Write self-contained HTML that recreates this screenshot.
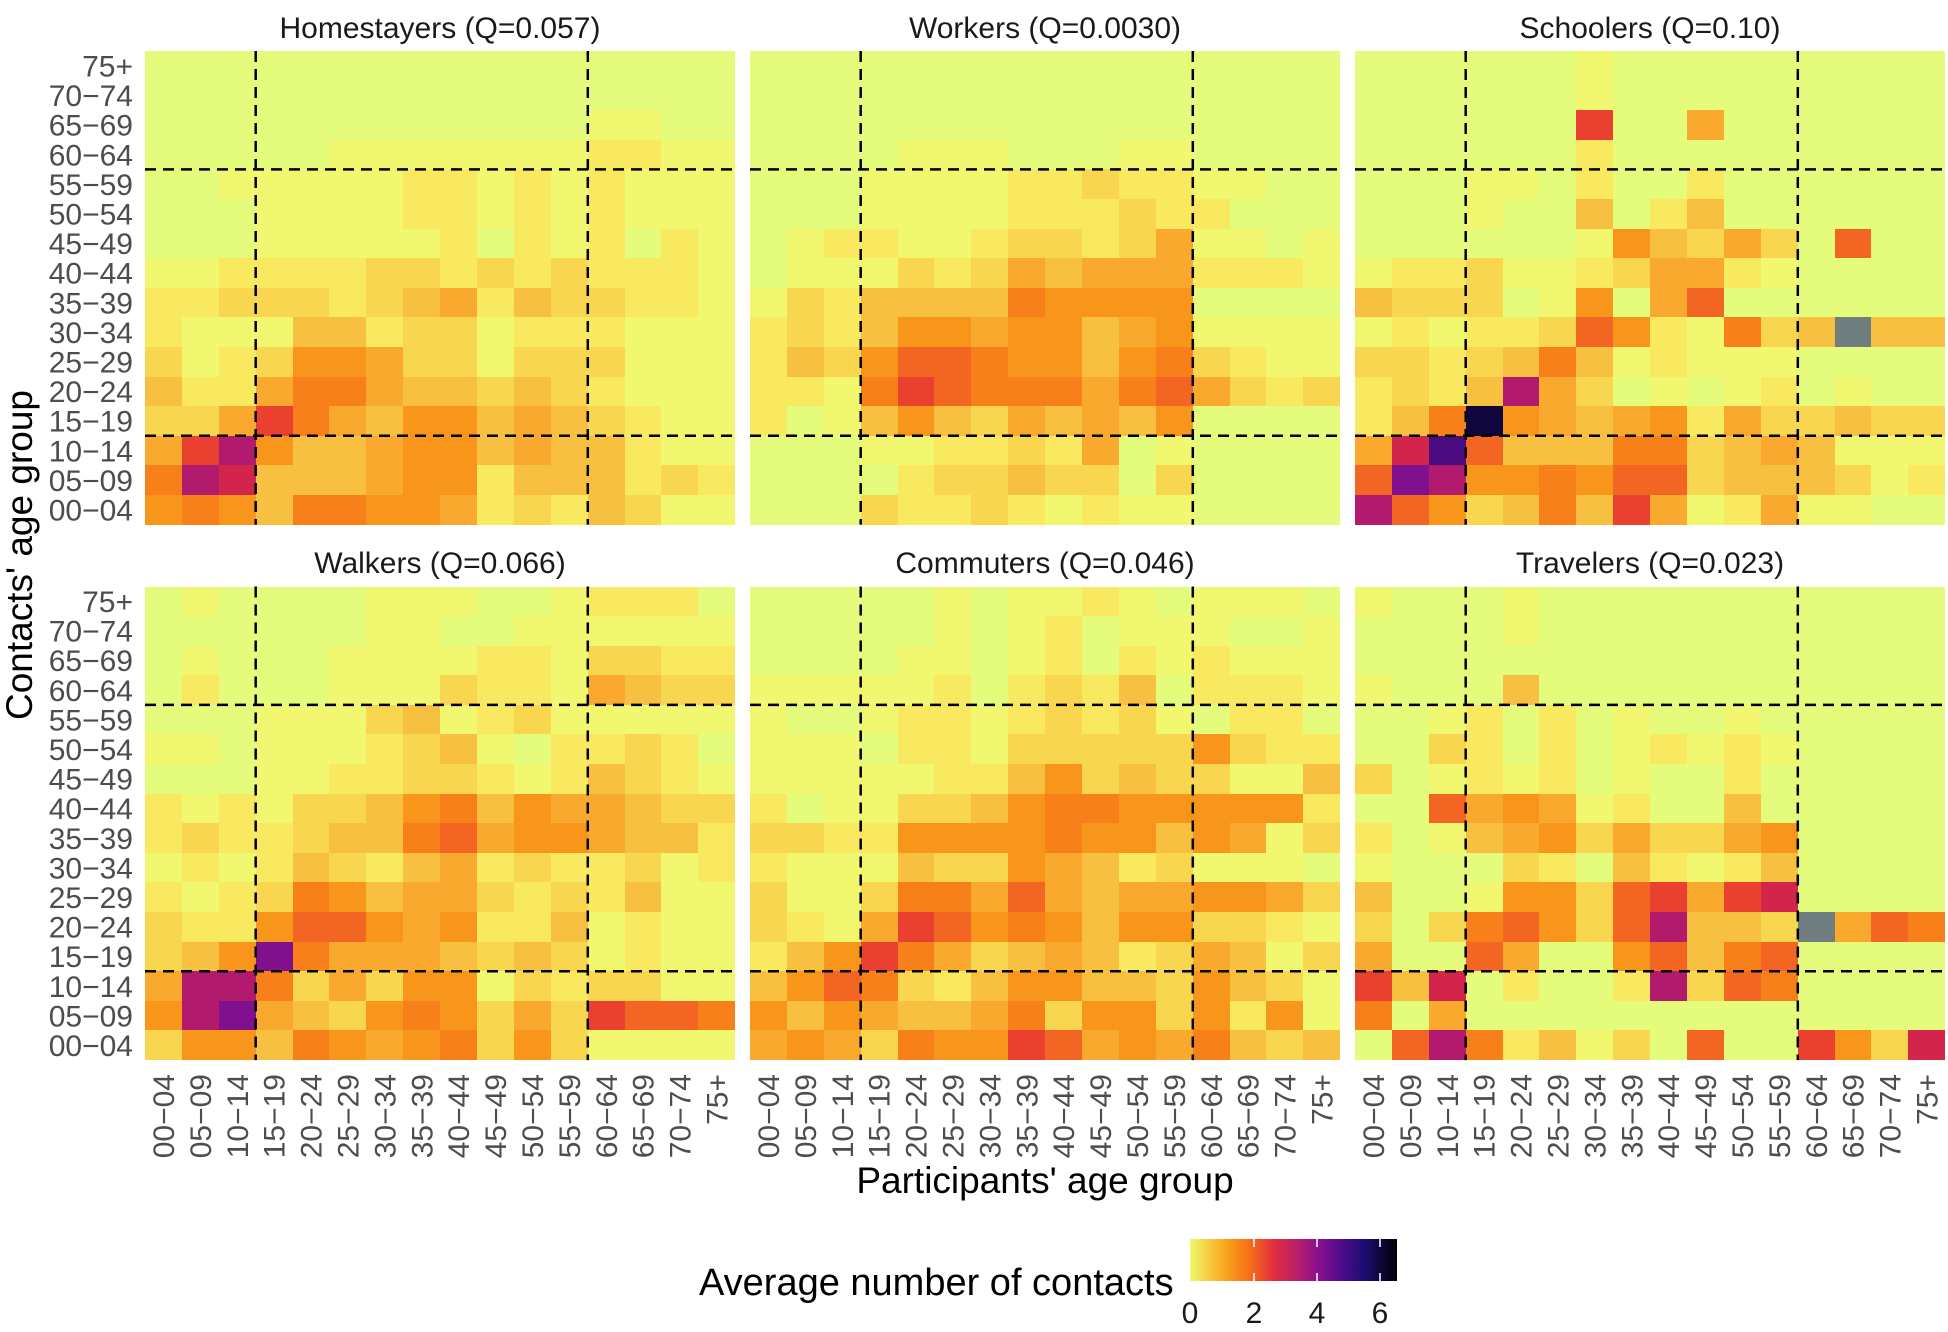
<!DOCTYPE html>
<html><head><meta charset="utf-8"><style>
html,body{margin:0;padding:0;background:#fff}
body{width:1948px;height:1332px;position:relative;overflow:hidden;font-family:"Liberation Sans",Arial,sans-serif}
.p{position:absolute;width:590.4px;height:473.6px;display:grid;grid-template-columns:repeat(16,36.9px);grid-template-rows:repeat(16,29.6px)}
.p i{display:block}
.g{background:#e4fb7c}.y{background:#f1f870}.Y{background:#f8e960}.l{background:#f8d650}.L{background:#f8c040}
.o{background:#f9aa2e}.O{background:#f8961c}.d{background:#f7801a}.r{background:#f36522}.R{background:#ea4030}
.c{background:#d3244c}.m{background:#b21a6e}.p2{background:#80108e}.P{background:#4a0a80}.k{background:#10063e}.x{background:#6f7d7e}
svg{position:absolute;left:0;top:0}
</style></head><body>
<div class="p" id="p1" style="left:145px;top:51px"></div>
<div class="p" id="p2" style="left:750px;top:51px"></div>
<div class="p" id="p3" style="left:1355px;top:51px"></div>
<div class="p" id="p4" style="left:145px;top:586.5px"></div>
<div class="p" id="p5" style="left:750px;top:586.5px"></div>
<div class="p" id="p6" style="left:1355px;top:586.5px"></div>
<script>
var D={
p1:["gggggggggggggggg","gggggggggggggggg","ggggggggggggyygg","gggggyyyyyyyYYyy","ggyyyyyYYyYyYyyy","gggyyyyYYyYyYyyy","gggyyyyyYgYyYgYy","yyYYYYllYlYlYYYy","YYlllYlLoYLllYYy","YyyyLLYllyYYYyyy","lyYlOOollylllyyy","LYYoddoLLlLlYyyy","lloRdoLOOLoLlYyy","oRmOLLoOOLoLLYyy","dmcLLLoOOYLLLYlY","OdOLddOOoYlYLlyy"],
p2:["gggggggggggggggg","gggggggggggggggg","gggggggggggggggg","ggggyyygggyygggg","gggyyyyYYlYYyygg","gggyyyyYYYlYYggg","gyYYyyYllYloyygy","gyyylYloLoooYYYy","ylYLLLLdOOOOgggg","YlYLOOoOOLoOyyyy","YLlOrrdOOLOdlYyy","YYydRrdddodrolYl","YgyLOLloLoLOgggg","gggyyYYlYogygggg","ggggYllLllglgggg","ggglYYlYyYyygggg"],
p3:["ggggggyggggggggg","ggggggyggggggggg","ggggggRggogggggg","ggggggYggggggggg","gggyygYggYgggggg","gggyggLgYLgggggg","ggggggyOLlolgrgg","yYYlyyYlooYygggg","LlllgyOgorgggggg","yYyYYlrOYydlLxLL","llYlLdLyYyyygggg","YlYLmolgygyYgygg","YLdkOoLoOYollLll","ocPrLLLddlLoLyyy","rpmOOdOrrlLLLlyY","mrOlLdLRoyYoyygg"],
p4:["gyggggyyyggyYYYg","ggggggyyggyyyyyy","gygggyyyyYYyllYY","gYgggyyylYYyoLll","gggyyylLyYlyyyyy","yygyyyYlLygYYlYg","gggyyYYllYyYLlYy","YyYyllLOdLOooLll","YlYYlLLdroOOoLLY","yYyYLlYLoYlYYlyY","YyYldOLoolYlYLyy","lYYOrrOoOYYLyYyy","lLOpdoooLlLlyYyy","ommdlolOOylYllyy","OmpoLlOdOlolRrrd","lOOLdOoOdlOlyyyy"],
p5:["gggggygyyYygyyyg","gggggygyYgyyyggy","ggggyygyYgYyYyyy","yyyyyYgYlYLgYYYy","yggyYYyYlYlygYYg","yyygYYylllllOlYY","yyyyyYYLOlLllyyL","YgyyllLOddOOOOOY","llYYOOOOdOOLOoyl","YyyyLllOoLYlyyyg","lyylddoroLooOOol","lYyoRrOdOLOOllYy","YLORdolLoLYloLyl","LOrdlYLOOLLlOLly","OLOoLLodlOOlOYOy","oOoldOORroOodLlL"],
p6:["ygggyggggggggggg","ggggyggggggggggg","gggggggggggggggg","ygggLggggggggggg","ggyYgYgyggyggggg","gglYgYgyYyYygggg","lgyYyYgyggYggggg","ggroOoyYggLggggg","YgyLoOlolloOgggg","yggglYgLYyYLgggg","LggyOOlrRoRcgggg","lgldrOlrmLLlxord","oggroggOrLdrgggg","RLcgYggYmlrdgggg","dgoggggggggggggg","grmdYLylgrggROlc"]};
for(var k in D){var h="";D[k].forEach(function(r){for(var i=0;i<16;i++){var c=r[i];if(c=="p")c="p2";h+='<i class="'+c+'"></i>';}});document.getElementById(k).innerHTML=h;}
</script>
<svg width="1948" height="1332" viewBox="0 0 1948 1332">
<defs><linearGradient id="cb" x1="0" x2="1" y1="0" y2="0">
<stop offset="0" stop-color="#ecf96f"/><stop offset="0.1" stop-color="#f8c83e"/><stop offset="0.18" stop-color="#f9a11a"/><stop offset="0.28" stop-color="#f57218"/><stop offset="0.4" stop-color="#e5303c"/><stop offset="0.52" stop-color="#b71e6a"/><stop offset="0.62" stop-color="#8a1090"/><stop offset="0.74" stop-color="#4a0c8a"/><stop offset="0.84" stop-color="#1e0c72"/><stop offset="1" stop-color="#000004"/></linearGradient></defs>
<g stroke="#000" stroke-width="2.5" stroke-dasharray="11 7" fill="none">
<path d="M255.7 51V524.6M587.8 51V524.6M145 169.4H735.4M145 435.8H735.4"/>
<path d="M860.7 51V524.6M1192.8 51V524.6M750 169.4H1340.4M750 435.8H1340.4"/>
<path d="M1465.7 51V524.6M1797.8 51V524.6M1355 169.4H1945.4M1355 435.8H1945.4"/>
<path d="M255.7 586.5V1060.1M587.8 586.5V1060.1M145 704.9H735.4M145 971.3H735.4"/>
<path d="M860.7 586.5V1060.1M1192.8 586.5V1060.1M750 704.9H1340.4M750 971.3H1340.4"/>
<path d="M1465.7 586.5V1060.1M1797.8 586.5V1060.1M1355 704.9H1945.4M1355 971.3H1945.4"/>
</g>
<g font-size="30" fill="#1a1a1a" text-anchor="middle">
<text x="440" y="38">Homestayers (Q=0.057)</text>
<text x="1045" y="38">Workers (Q=0.0030)</text>
<text x="1650" y="38">Schoolers (Q=0.10)</text>
<text x="440" y="573">Walkers (Q=0.066)</text>
<text x="1045" y="573">Commuters (Q=0.046)</text>
<text x="1650" y="573">Travelers (Q=0.023)</text>
</g>
<g font-size="30" fill="#4d4d4d" text-anchor="end">
<text x="133" y="76.5">75+</text><text x="133" y="106.1">70−74</text><text x="133" y="135.7">65−69</text><text x="133" y="165.3">60−64</text><text x="133" y="194.9">55−59</text><text x="133" y="224.5">50−54</text><text x="133" y="254.1">45−49</text><text x="133" y="283.7">40−44</text><text x="133" y="313.3">35−39</text><text x="133" y="342.9">30−34</text><text x="133" y="372.5">25−29</text><text x="133" y="402.1">20−24</text><text x="133" y="431.7">15−19</text><text x="133" y="461.3">10−14</text><text x="133" y="490.9">05−09</text><text x="133" y="520.5">00−04</text>
<text x="133" y="612">75+</text><text x="133" y="641.6">70−74</text><text x="133" y="671.2">65−69</text><text x="133" y="700.8">60−64</text><text x="133" y="730.4">55−59</text><text x="133" y="760">50−54</text><text x="133" y="789.6">45−49</text><text x="133" y="819.2">40−44</text><text x="133" y="848.8">35−39</text><text x="133" y="878.4">30−34</text><text x="133" y="908">25−29</text><text x="133" y="937.6">20−24</text><text x="133" y="967.2">15−19</text><text x="133" y="996.8">10−14</text><text x="133" y="1026.4">05−09</text><text x="133" y="1056">00−04</text>
<text transform="translate(173.95,1074) rotate(-90)">00−04</text><text transform="translate(210.85,1074) rotate(-90)">05−09</text><text transform="translate(247.75,1074) rotate(-90)">10−14</text><text transform="translate(284.65,1074) rotate(-90)">15−19</text><text transform="translate(321.55,1074) rotate(-90)">20−24</text><text transform="translate(358.45,1074) rotate(-90)">25−29</text><text transform="translate(395.35,1074) rotate(-90)">30−34</text><text transform="translate(432.25,1074) rotate(-90)">35−39</text><text transform="translate(469.15,1074) rotate(-90)">40−44</text><text transform="translate(506.05,1074) rotate(-90)">45−49</text><text transform="translate(542.95,1074) rotate(-90)">50−54</text><text transform="translate(579.85,1074) rotate(-90)">55−59</text><text transform="translate(616.75,1074) rotate(-90)">60−64</text><text transform="translate(653.65,1074) rotate(-90)">65−69</text><text transform="translate(690.55,1074) rotate(-90)">70−74</text><text transform="translate(727.45,1074) rotate(-90)">75+</text>
<text transform="translate(778.95,1074) rotate(-90)">00−04</text><text transform="translate(815.85,1074) rotate(-90)">05−09</text><text transform="translate(852.75,1074) rotate(-90)">10−14</text><text transform="translate(889.65,1074) rotate(-90)">15−19</text><text transform="translate(926.55,1074) rotate(-90)">20−24</text><text transform="translate(963.45,1074) rotate(-90)">25−29</text><text transform="translate(1000.35,1074) rotate(-90)">30−34</text><text transform="translate(1037.25,1074) rotate(-90)">35−39</text><text transform="translate(1074.15,1074) rotate(-90)">40−44</text><text transform="translate(1111.05,1074) rotate(-90)">45−49</text><text transform="translate(1147.95,1074) rotate(-90)">50−54</text><text transform="translate(1184.85,1074) rotate(-90)">55−59</text><text transform="translate(1221.75,1074) rotate(-90)">60−64</text><text transform="translate(1258.65,1074) rotate(-90)">65−69</text><text transform="translate(1295.55,1074) rotate(-90)">70−74</text><text transform="translate(1332.45,1074) rotate(-90)">75+</text>
<text transform="translate(1383.95,1074) rotate(-90)">00−04</text><text transform="translate(1420.85,1074) rotate(-90)">05−09</text><text transform="translate(1457.75,1074) rotate(-90)">10−14</text><text transform="translate(1494.65,1074) rotate(-90)">15−19</text><text transform="translate(1531.55,1074) rotate(-90)">20−24</text><text transform="translate(1568.45,1074) rotate(-90)">25−29</text><text transform="translate(1605.35,1074) rotate(-90)">30−34</text><text transform="translate(1642.25,1074) rotate(-90)">35−39</text><text transform="translate(1679.15,1074) rotate(-90)">40−44</text><text transform="translate(1716.05,1074) rotate(-90)">45−49</text><text transform="translate(1752.95,1074) rotate(-90)">50−54</text><text transform="translate(1789.85,1074) rotate(-90)">55−59</text><text transform="translate(1826.75,1074) rotate(-90)">60−64</text><text transform="translate(1863.65,1074) rotate(-90)">65−69</text><text transform="translate(1900.55,1074) rotate(-90)">70−74</text><text transform="translate(1937.45,1074) rotate(-90)">75+</text>
</g>
<text x="1045" y="1193" font-size="37" fill="#000" text-anchor="middle">Participants' age group</text>
<text transform="translate(32,555) rotate(-90)" font-size="37" fill="#000" text-anchor="middle">Contacts' age group</text>
<text x="699" y="1295" font-size="38" fill="#000">Average number of contacts</text>
<rect x="1190" y="1239" width="207" height="42" fill="url(#cb)"/>
<g stroke="#fff" stroke-width="1.5"><path d="M1254 1239v8M1254 1273v8M1317 1239v8M1317 1273v8M1380 1239v8M1380 1273v8"/></g>
<g font-size="30" fill="#1a1a1a" text-anchor="middle">
<text x="1190" y="1323">0</text><text x="1254" y="1323">2</text><text x="1317" y="1323">4</text><text x="1380" y="1323">6</text>
</g>
</svg>
</body></html>
